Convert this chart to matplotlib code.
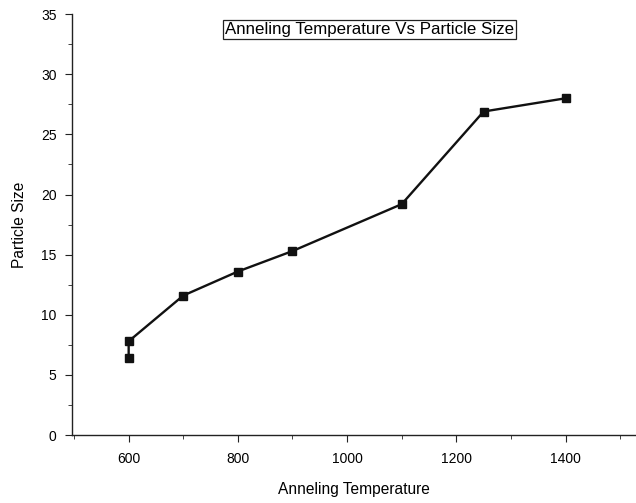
import matplotlib
matplotlib.use("Agg")
import matplotlib.pyplot as plt
from matplotlib.ticker import MultipleLocator

plt.rcParams["font.family"] = ["Liberation Sans", "DejaVu Sans"]

temperature = [600, 600, 700, 800, 900, 1100, 1250, 1400]
particle_size = [6.4, 7.8, 11.6, 13.6, 15.3, 19.2, 26.9, 28.0]

fig = plt.figure(figsize=(6.36, 5.03), dpi=100)
ax = fig.add_axes([0.113, 0.135, 0.887, 0.837])

ax.plot(temperature, particle_size, color="#111111", linewidth=1.7,
        marker="s", markersize=6, markerfacecolor="#111111", markeredgecolor="#111111")

ax.set_xlim(496, 1529)
ax.set_ylim(0, 35)
ax.xaxis.set_major_locator(MultipleLocator(200))
ax.xaxis.set_minor_locator(MultipleLocator(100))
ax.yaxis.set_major_locator(MultipleLocator(5))
ax.yaxis.set_minor_locator(MultipleLocator(2.5))
ax.tick_params(which="both", direction="out", color="#222222", labelsize=10, pad=6)
ax.tick_params(axis="x", pad=7)
ax.tick_params(which="major", length=5)
ax.tick_params(which="minor", length=3)

for side in ("top", "right"):
    ax.spines[side].set_visible(False)
for side in ("left", "bottom"):
    ax.spines[side].set_linewidth(1.0)
    ax.spines[side].set_color("#222222")

ax.set_xlabel("Anneling Temperature", fontsize=11.2, labelpad=12)
ax.set_ylabel("Particle Size", fontsize=11.2, labelpad=10)

ax.text(0.528, 0.964, "Anneling Temperature Vs Particle Size", transform=ax.transAxes,
        ha="center", va="center", fontsize=12.2,
        bbox=dict(boxstyle="square,pad=0.12", facecolor="white", edgecolor="#222222", linewidth=0.9))

fig.savefig("out.png", dpi=100)
